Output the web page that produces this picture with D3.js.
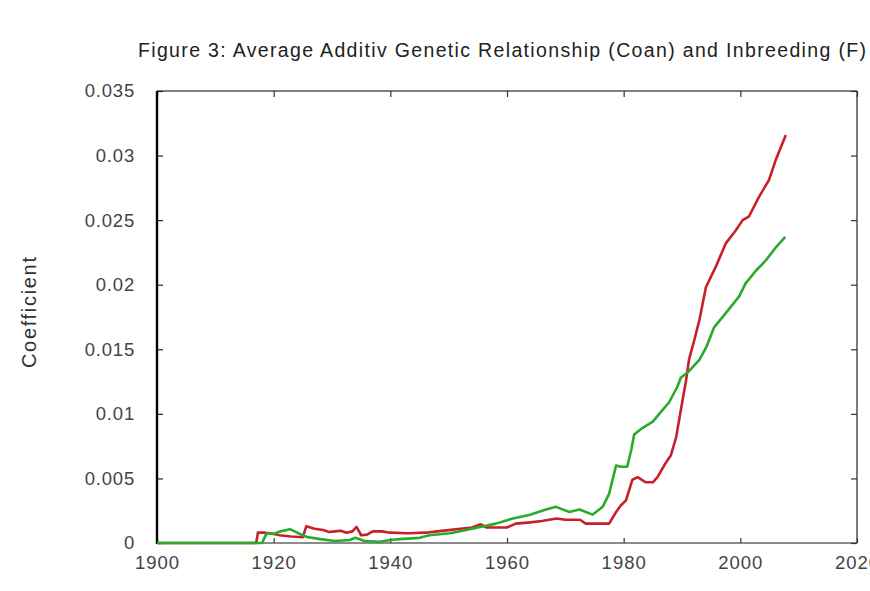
<!DOCTYPE html>
<html>
<head>
<meta charset="utf-8">
<script src="https://cdn.jsdelivr.net/npm/d3@7"></script>
<style>
  html, body { margin: 0; padding: 0; background: #fff; }
  svg { display: block; font-family: "Liberation Sans", Arial, sans-serif; }
</style>
</head>
<body>
<svg id="chart" width="870" height="591"></svg>
<script>
const titleText = "Figure 3: Average Additiv Genetic Relationship (Coan) and Inbreeding (F)";
const yLabelText = "Coefficient";
const xTicks = [1900, 1920, 1940, 1960, 1980, 2000, 2020];
const yTicks = [0, 0.005, 0.01, 0.015, 0.02, 0.025, 0.03, 0.035];
const yTickLabels = ["0", "0.005", "0.01", "0.015", "0.02", "0.025", "0.03", "0.035"];

// Inbreeding (F) — red
const fYears = [1900, 1917, 1917.3, 1918.5, 1919.5, 1921, 1923, 1925, 1925.6, 1927, 1928.5, 1929.5, 1930.5, 1931.5, 1932.5, 1933.5, 1934.2, 1935, 1936, 1937, 1938.5, 1940, 1943, 1946, 1948, 1950, 1952, 1954, 1955.5, 1956.5, 1960, 1961.5, 1964, 1966, 1968.5, 1970, 1972.5, 1973.5, 1977.5, 1978.7, 1979.5, 1980.4, 1981.5, 1982.4, 1983.8, 1985, 1985.8, 1987.2, 1988.1, 1989, 1989.8, 1990.7, 1991.2, 1992.1, 1993, 1994.1, 1995.8, 1997.5, 1999.2, 2000.4, 2001.5, 2003.2, 2004.9, 2006.1, 2007.8];
const fValues = [0, 0, 0.0008, 0.0008, 0.00075, 0.0006, 0.0005, 0.00045, 0.0013, 0.0011, 0.001, 0.00085, 0.0009, 0.00095, 0.0008, 0.0009, 0.00125, 0.0006, 0.00065, 0.0009, 0.0009, 0.0008, 0.00075, 0.0008, 0.0009, 0.001, 0.0011, 0.0012, 0.00145, 0.0012, 0.0012, 0.0015, 0.0016, 0.0017, 0.0019, 0.0018, 0.0018, 0.0015, 0.0015, 0.0024, 0.0029, 0.0033, 0.0049, 0.0051, 0.0047, 0.0047, 0.0051, 0.0062, 0.0068, 0.0082, 0.0103, 0.0126, 0.0142, 0.0157, 0.0173, 0.0198, 0.0214, 0.0232, 0.0242, 0.025, 0.0253, 0.0268, 0.0281, 0.0297, 0.0316];

// Average additive genetic relationship (Coan) — green
const coanYears = [1900, 1918, 1918.8, 1920, 1921, 1922.8, 1923.6, 1924.5, 1925.7, 1928, 1930.5, 1933, 1934, 1935.6, 1938.2, 1940, 1941.6, 1945, 1946.7, 1950.2, 1952.4, 1955.6, 1958.1, 1961, 1963.8, 1966.7, 1968.4, 1970.7, 1972.4, 1974.7, 1976.4, 1977.5, 1978.7, 1979.5, 1980.6, 1981.3, 1981.8, 1983.2, 1985, 1986.1, 1987.8, 1989.2, 1989.8, 1991.2, 1993, 1994.2, 1995.5, 1997.5, 1999.8, 2000.9, 2002.7, 2004.4, 2006.1, 2007.7];
const coanValues = [0, 0, 0.00075, 0.0007, 0.00088, 0.00106, 0.0009, 0.0007, 0.00046, 0.0003, 0.00015, 0.00023, 0.0004, 0.00015, 0.0001, 0.00023, 0.0003, 0.0004, 0.0006, 0.00075, 0.00095, 0.00126, 0.0015, 0.0019, 0.00217, 0.0026, 0.0028, 0.0024, 0.0026, 0.0022, 0.0028, 0.0038, 0.006, 0.0059, 0.0059, 0.0072, 0.0084, 0.0089, 0.0094, 0.01, 0.0109, 0.0121, 0.0128, 0.0133, 0.0142, 0.0152, 0.0167, 0.0178, 0.0191, 0.0201, 0.0211, 0.0219, 0.0229, 0.0237];

const svg = d3.select("#chart");
const L = 157, R = 857, T = 91, B = 543;

const x = d3.scaleLinear().domain([1900, 2020]).range([L, R]);
const y = d3.scaleLinear().domain([0, 0.035]).range([B, T]);

// frame
svg.append("line").attr("x1", L).attr("x2", R).attr("y1", T).attr("y2", T)
  .attr("stroke", "#555").attr("stroke-width", 1.3);
svg.append("line").attr("x1", R).attr("x2", R).attr("y1", T).attr("y2", B)
  .attr("stroke", "#333").attr("stroke-width", 1.3);
svg.append("line").attr("x1", L).attr("x2", R).attr("y1", B).attr("y2", B)
  .attr("stroke", "#666").attr("stroke-width", 1.6);

const tickColor = "#444";
const labelFont = "18.5px";

// bottom axis
const xAxis = svg.append("g").attr("transform", `translate(0,${B})`)
  .call(d3.axisBottom(x).tickValues(xTicks).tickFormat(d3.format("d")).tickSizeInner(-5).tickSizeOuter(0).tickPadding(13));
xAxis.select(".domain").remove();
xAxis.selectAll(".tick line").attr("stroke", "#333").attr("stroke-width", 1.2);
xAxis.selectAll(".tick text").attr("fill", tickColor).style("font-size", labelFont)
  .style("letter-spacing", "1px").attr("font-family", "Liberation Sans, Arial, sans-serif");

// top ticks
const xTop = svg.append("g").attr("transform", `translate(0,${T})`)
  .call(d3.axisTop(x).tickValues(xTicks).tickFormat("").tickSizeInner(-6).tickSizeOuter(0));
xTop.select(".domain").remove();
xTop.selectAll(".tick line").attr("stroke", "#333").attr("stroke-width", 1.2);

// left axis
const yAxis = svg.append("g").attr("transform", `translate(${L},0)`)
  .call(d3.axisLeft(y).tickValues(yTicks).tickFormat((d, i) => yTickLabels[i]).tickSizeInner(-6).tickSizeOuter(0).tickPadding(22));
yAxis.select(".domain").remove();
yAxis.selectAll(".tick line").attr("stroke", "#222").attr("stroke-width", 1.2);
yAxis.selectAll(".tick text").attr("fill", tickColor).style("font-size", labelFont)
  .style("letter-spacing", "0.8px").attr("font-family", "Liberation Sans, Arial, sans-serif");

// right ticks
const yRight = svg.append("g").attr("transform", `translate(${R},0)`)
  .call(d3.axisRight(y).tickValues(yTicks).tickFormat("").tickSizeInner(-6).tickSizeOuter(0));
yRight.select(".domain").remove();
yRight.selectAll(".tick line").attr("stroke", "#333").attr("stroke-width", 1.2);

// left axis line (thick black)
svg.append("line").attr("x1", L).attr("x2", L).attr("y1", T).attr("y2", B + 1)
  .attr("stroke", "#000").attr("stroke-width", 2.4);

// lines
const line = d3.line().x(d => x(d[0])).y(d => y(d[1]));
const fData = fYears.map((yr, i) => [yr, fValues[i]]);
const coanData = coanYears.map((yr, i) => [yr, coanValues[i]]);

svg.append("path").datum(fData).attr("d", line)
  .attr("fill", "none").attr("stroke", "#c8202a").attr("stroke-width", 2.6).attr("stroke-linejoin", "round");
svg.append("path").datum(coanData).attr("d", line)
  .attr("fill", "none").attr("stroke", "#2aaa2a").attr("stroke-width", 2.6).attr("stroke-linejoin", "round");

// title
svg.append("text").attr("x", 138).attr("y", 57)
  .attr("textLength", 728).attr("lengthAdjust", "spacing")
  .attr("fill", "#222").style("font-size", "19.5px").text(titleText);

// y label
svg.append("text").attr("transform", "translate(36,368) rotate(-90)")
  .attr("textLength", 111).attr("lengthAdjust", "spacing")
  .attr("fill", "#333").style("font-size", "20px").text(yLabelText);
</script>
</body>
</html>
